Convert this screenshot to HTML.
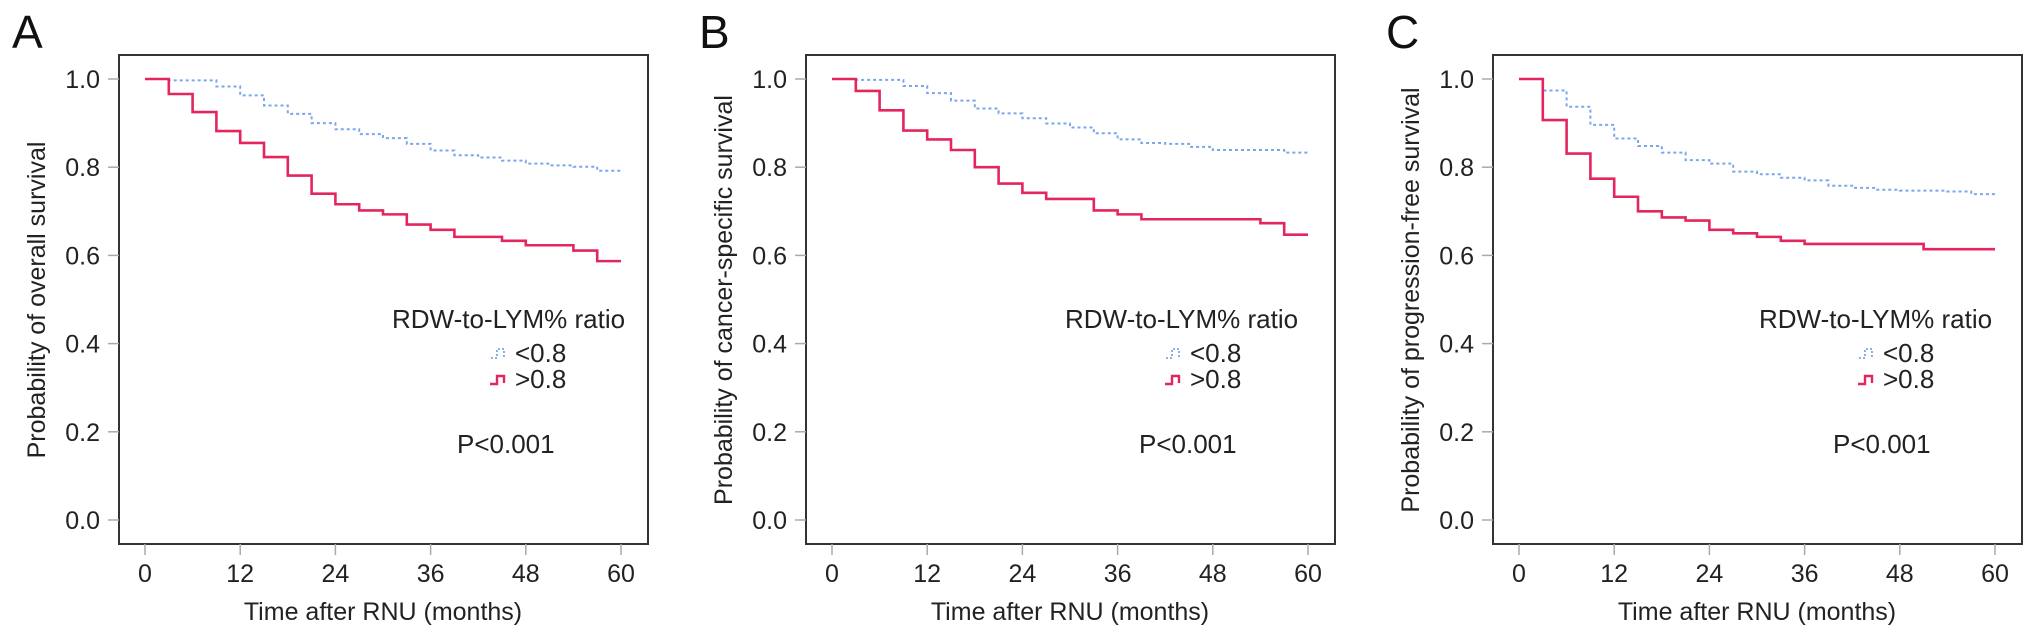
<!DOCTYPE html>
<html><head><meta charset="utf-8">
<style>
html,body{margin:0;padding:0;background:#fff;}
svg{display:block;font-family:"Liberation Sans",Arial,sans-serif;}
</style></head>
<body>
<svg id="fig" width="2032" height="638" viewBox="0 0 2032 638" xmlns="http://www.w3.org/2000/svg"></svg>
<script>
const xTicks = [0, 12, 24, 36, 48, 60];
const yTicks = [0, 0.2, 0.4, 0.6, 0.8, 1.0];
const yTickLabels = ["0.0", "0.2", "0.4", "0.6", "0.8", "1.0"];
const panelLetters = ["A", "B", "C"];
const yTitles = ["Probability of overall survival", "Probability of cancer-specific survival", "Probability of progression-free survival"];
const legendTitle = "RDW-to-LYM% ratio";
const seriesLabels = ["<0.8", ">0.8"];
const pText = "P<0.001";

const timesA_low = [0,3,9,12,15,18,21,24,27,30,33,36,39,42,45,48,51,54,57];
const survA_low = [1.0,0.997,0.983,0.963,0.940,0.921,0.900,0.886,0.875,0.866,0.853,0.838,0.827,0.822,0.815,0.808,0.804,0.801,0.792];
const timesA_high = [0,3,6,9,12,15,18,21,24,27,30,33,36,39,45,48,54,57];
const survA_high = [1.0,0.966,0.925,0.882,0.855,0.823,0.781,0.740,0.716,0.702,0.693,0.670,0.658,0.642,0.633,0.623,0.611,0.587];

const timesB_low = [0,3,9,12,15,18,21,24,27,30,33,36,39,42,45,48,57];
const survB_low = [1.0,0.998,0.984,0.968,0.951,0.933,0.922,0.911,0.899,0.890,0.877,0.863,0.855,0.853,0.846,0.839,0.833];
const timesB_high = [0,3,6,9,12,15,18,21,24,27,33,36,39,54,57];
const survB_high = [1.0,0.973,0.929,0.883,0.863,0.839,0.800,0.763,0.742,0.728,0.702,0.693,0.682,0.673,0.647];

const timesC_low = [0,3,6,9,12,15,18,21,24,27,30,33,36,39,42,45,48,54,57];
const survC_low = [1.0,0.974,0.937,0.896,0.865,0.848,0.833,0.816,0.808,0.790,0.784,0.776,0.770,0.758,0.753,0.749,0.747,0.745,0.739];
const timesC_high = [0,3,6,9,12,15,18,21,24,27,30,33,36,51];
const survC_high = [1.0,0.907,0.831,0.774,0.733,0.700,0.686,0.679,0.658,0.650,0.642,0.633,0.626,0.614];

const panels = [
  {x0:145, lt:247, li:370, lp:312, low:[timesA_low,survA_low], high:[timesA_high,survA_high]},
  {x0:832, lt:233, li:358, lp:307, low:[timesB_low,survB_low], high:[timesB_high,survB_high]},
  {x0:1519, lt:240, li:364, lp:314, low:[timesC_low,survC_low], high:[timesC_high,survC_high]}
];

const NS = "http://www.w3.org/2000/svg";
const svg = document.getElementById("fig");
function mk(tag, attrs, parent, text){
  const e = document.createElementNS(NS, tag);
  for (const k in attrs) e.setAttribute(k, attrs[k]);
  if (text !== undefined) e.textContent = text;
  (parent||svg).appendChild(e);
  return e;
}
const Y0 = 520, Y1 = 79, XW = 476, TMAX = 60;

panels.forEach((p, i) => {
  const xs = t => p.x0 + t / TMAX * XW;
  const ys = v => Y0 - v * (Y0 - Y1);
  const g = mk("g", {});
  
  

  const letter = mk("text", {x: p.x0 - 133, y: 48, "font-size": 46, fill: "#111"}, g, panelLetters[i]);
  
  

  const box = mk("rect", {x: p.x0 - 26, y: 55, width: XW + 53, height: 489, fill: "none", stroke: "#333", "stroke-width": 2}, g);
  
  

  yTicks.forEach((v, k) => {
    const tk = mk("line", {x1: p.x0 - 37, x2: p.x0 - 26, y1: ys(v), y2: ys(v), stroke: "#aaa", "stroke-width": 1.5}, g);
    
    
    const tl = mk("text", {x: p.x0 - 45, y: ys(v) + 9, "font-size": 25, "text-anchor": "end", fill: "#222"}, g, yTickLabels[k]);
    
    
  });
  xTicks.forEach(t => {
    const tk = mk("line", {x1: xs(t), x2: xs(t), y1: 544, y2: 555, stroke: "#aaa", "stroke-width": 1.5}, g);
    
    
    const tl = mk("text", {x: xs(t), y: 582, "font-size": 25, "text-anchor": "middle", fill: "#222"}, g, String(t));
    
    
  });
  const xt = mk("text", {x: xs(30), y: 620, "font-size": 25, "text-anchor": "middle", fill: "#222"}, g, "Time after RNU (months)");
  
  
  const ycx = p.x0 - 100, ycy = 300;
  const yt = mk("text", {x: ycx, y: ycy, "font-size": 25, "text-anchor": "middle", fill: "#222", transform: `rotate(-90 ${ycx} ${ycy})`}, g, yTitles[i]);
  
  

  function stepPath(times, surv){
    let d = `M${xs(times[0])},${ys(surv[0])}`;
    for (let k = 1; k < times.length; k++){
      d += ` H${xs(times[k])} V${ys(surv[k])}`;
    }
    d += ` H${xs(TMAX)}`;
    return d;
  }
  const lowP = mk("path", {d: stepPath(p.low[0], p.low[1]), fill: "none", stroke: "#7aa6ec", "stroke-width": 2, "stroke-dasharray": "3,3"}, g);
  
  
  const highP = mk("path", {d: stepPath(p.high[0], p.high[1]), fill: "none", stroke: "#e4265e", "stroke-width": 2.6}, g);
  
  

  const lg = mk("g", {}, g);
  
  
  const ltt = mk("text", {x: p.x0 + p.lt, y: 328, "font-size": 26, fill: "#222"}, lg, legendTitle);
  
  
  const sx = p.x0 + p.li - 24;
  const s1 = mk("path", {d: `M${sx},358 h6 v-9 h7 v8`, fill: "none", stroke: "#7aa6ec", "stroke-width": 1.8, "stroke-dasharray": "2,2"}, lg);
  
  
  const t1 = mk("text", {x: p.x0 + p.li, y: 362, "font-size": 26, fill: "#222"}, lg, seriesLabels[0]);
  
  
  const s2 = mk("path", {d: `M${sx - 1},384 h7 v-8 h7 v7`, fill: "none", stroke: "#e4265e", "stroke-width": 2.4}, lg);
  
  
  const t2 = mk("text", {x: p.x0 + p.li, y: 388, "font-size": 26, fill: "#222"}, lg, seriesLabels[1]);
  
  

  const pv = mk("text", {x: p.x0 + p.lp, y: 453, "font-size": 26, fill: "#222"}, g, pText);
  
  
});
</script>
</body></html>
